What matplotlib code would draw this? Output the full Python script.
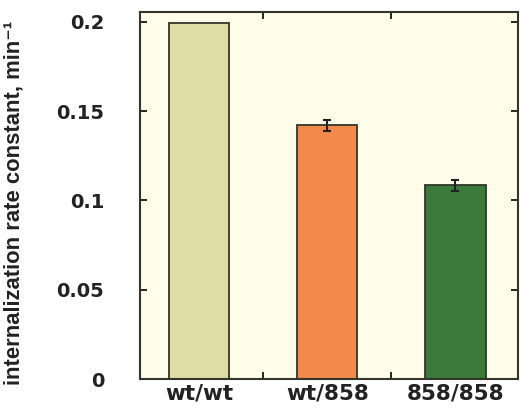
import matplotlib
matplotlib.use("Agg")
import matplotlib.pyplot as plt

genotypes = ["wt/wt", "wt/858", "858/858"]
rate_const = [0.199, 0.142, 0.1085]
rate_err = [0.0, 0.003, 0.003]
bar_colors = ["#dfdda5", "#f28a4c", "#3b7a3b"]
yticks = [0, 0.05, 0.1, 0.15, 0.2]
ytick_labels = ["0", "0.05", "0.1", "0.15", "0.2"]

fig = plt.figure(figsize=(5.25, 4.08), dpi=100)
ax = fig.add_axes([0.267, 0.071, 0.72, 0.9])
ax.set_facecolor("#fffde9")

x = list(range(len(genotypes)))
ax.bar(x, rate_const, width=0.47, color=bar_colors, edgecolor="#33352a", linewidth=1.3)
ax.errorbar(x[1:], rate_const[1:], yerr=rate_err[1:], fmt="none", ecolor="#222222",
            elinewidth=1.5, capsize=3, capthick=1.5)

ax.set_xlim(-0.46, 2.49)
ax.set_ylim(0, 0.2055)
ax.set_yticks(yticks)
ax.set_yticklabels(ytick_labels, fontsize=14, fontweight="bold", color="#222222")
ax.set_xticks(x)
ax.set_xticklabels(genotypes, fontsize=15.5, fontweight="bold", color="#222222")
ax.tick_params(axis="x", length=0, pad=3)
ax.set_xticks([0.5, 1.5], minor=True)
ax.tick_params(axis="x", which="minor", direction="in", length=5, top=True, width=1.2)
ax.tick_params(axis="y", direction="in", length=5, right=True, width=1.2, pad=26)
for s in ax.spines.values():
    s.set_linewidth(1.5)
    s.set_color("#33352a")

ax.set_ylabel("internalization rate constant, min\u207b\u00b9",
              family=["Liberation Sans", "DejaVu Sans"],
              fontsize=15.8, fontweight="bold", color="#222222")
ax.yaxis.set_label_coords(-0.305, 0.48)

fig.savefig("out.png", dpi=100)
